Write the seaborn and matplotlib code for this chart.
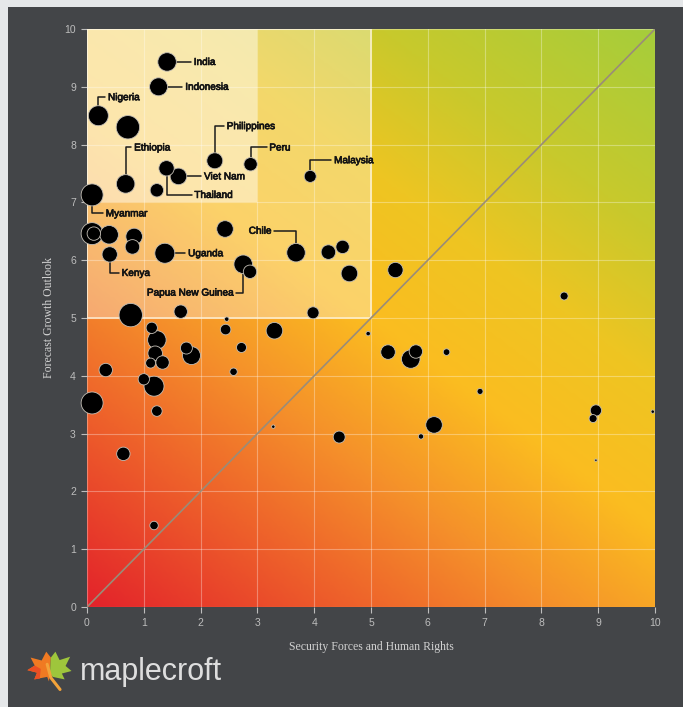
import numpy as np
import pandas as pd
import matplotlib
matplotlib.use("Agg")
import matplotlib.pyplot as plt
import matplotlib.patheffects as pe
import seaborn as sns
from matplotlib.colors import LinearSegmentedColormap
from matplotlib.patches import Rectangle, Polygon

# ---------------------------------------------------
# Data
# ---------------------------------------------------

security = [1.41, 1.26, 0.20, 0.68, 2.25, 2.88, 3.93, 1.61, 1.40, 0.09,
            0.40, 1.37, 2.75, 3.68,
            0.72, 1.23, 0.09, 0.12, 0.39, 0.83, 0.80, 2.43, 2.87, 4.25,
            4.50, 4.62, 5.43, 8.40, 4.95, 5.30, 5.70, 5.79, 6.33, 6.92,
            8.96, 8.91, 9.96, 6.11, 5.88, 4.44, 8.96, 0.77, 1.65, 3.98,
            2.46, 2.44, 3.30, 1.14, 1.23, 1.20, 1.33, 1.12, 1.75, 1.84,
            2.72, 2.58, 0.33, 1.00, 1.18, 1.23, 0.09, 0.64, 1.18, 3.28]
growth = [9.43, 9.00, 8.50, 7.32, 7.72, 7.66, 7.45, 7.45, 7.59, 7.13,
          6.10, 6.12, 5.93, 6.13,
          8.30, 7.21, 6.46, 6.46, 6.44, 6.41, 6.23, 6.54, 5.80, 6.14,
          6.23, 5.77, 5.83, 5.38, 4.73, 4.41, 4.29, 4.42, 4.41, 3.73,
          3.40, 3.26, 3.38, 3.15, 2.95, 2.94, 2.54, 5.05, 5.11, 5.09,
          4.98, 4.80, 4.78, 4.83, 4.62, 4.39, 4.23, 4.22, 4.48, 4.35,
          4.49, 4.07, 4.10, 3.94, 3.82, 3.39, 3.53, 2.65, 1.41, 3.12]
weight = [86, 81, 100, 86, 64, 45, 36, 69, 59, 121,
          59, 100, 86, 86,
          137, 45, 121, 45, 86, 69, 53, 69, 45, 53,
          45, 69, 59, 16, 5, 53, 86, 45, 11, 9,
          32, 16, 3, 69, 7, 36, 1.5, 137, 45, 36,
          5, 28, 69, 32, 86, 53, 45, 25, 36, 81,
          25, 14, 45, 32, 100, 28, 121, 45, 18, 3]
country = ["India", "Indonesia", "Nigeria", "Ethiopia", "Philippines", "Peru",
           "Malaysia", "Viet Nam", "Thailand", "Myanmar", "Kenya", "Uganda",
           "Papua New Guinea", "Chile"] + [""] * 50

df = pd.DataFrame({"security": security, "growth": growth,
                   "weight": weight, "country": country})

# label placement (text anchor, alignment)
label_pos = {
    "India": (1.88, 9.43, "left"),
    "Indonesia": (1.73, 9.00, "left"),
    "Nigeria": (0.37, 8.82, "left"),
    "Ethiopia": (0.83, 7.95, "left"),
    "Philippines": (2.46, 8.32, "left"),
    "Peru": (3.21, 7.95, "left"),
    "Malaysia": (4.35, 7.73, "left"),
    "Viet Nam": (2.06, 7.45, "left"),
    "Thailand": (1.89, 7.13, "left"),
    "Myanmar": (0.33, 6.81, "left"),
    "Kenya": (0.61, 5.78, "left"),
    "Uganda": (1.78, 6.12, "left"),
    "Papua New Guinea": (2.58, 5.44, "right"),
    "Chile": (3.25, 6.51, "right"),
}

# ---------------------------------------------------
# Figure
# ---------------------------------------------------

W, H = 683, 707
fig = plt.figure(figsize=(W / 100, H / 100), dpi=100)
fig.patch.set_facecolor("#e5e7e9")
fig.add_artist(Rectangle((8 / W, 0), 1, 1 - 7 / H, transform=fig.transFigure,
                         facecolor="#434548", edgecolor="none", zorder=-5))

ax = fig.add_axes([87 / W, 1 - 607 / H, 568 / W, 578 / H])
ax.set_facecolor("none")

# background gradient
cmap = LinearSegmentedColormap.from_list("bg", [
    (0.0, "#e3232a"), (0.2, "#ee622b"), (0.35, "#f5922a"), (0.5, "#fbbd20"),
    (0.65, "#eec522"), (0.8, "#c8c92c"), (1.0, "#a6cd3b")])
gx, gy = np.meshgrid(np.linspace(0, 10, 200), np.linspace(0, 10, 200))
ax.imshow((0.42 * gx + 0.58 * gy) / 10, extent=[0, 10, 0, 10], origin="lower",
          cmap=cmap, vmin=0, vmax=1, aspect="auto", interpolation="bilinear", zorder=0)

# highlighted zones
ax.add_patch(Rectangle((0, 5), 5, 5, facecolor="white", alpha=0.33,
                       edgecolor="none", zorder=0.6))
ax.add_patch(Rectangle((0, 5), 5, 5, facecolor="none", edgecolor="#fff6e0",
                       lw=1.2, alpha=0.8, zorder=0.7))
ax.add_patch(Rectangle((0, 7), 3, 3, facecolor="white", alpha=0.45,
                       edgecolor="none", zorder=0.6))

ax.grid(True, color="white", alpha=0.32, lw=0.8, zorder=0.5)
ax.set_axisbelow(True)
ax.plot([0, 10], [0, 10], color="#9a8c78", lw=1.2, zorder=0.8)

df = df.sort_values("weight", ascending=False)
wmax = df["weight"].max()
sns.scatterplot(data=df, x="security", y="growth", size="weight",
                sizes=(0, 2.07 * wmax), size_norm=(0, wmax), color="black",
                edgecolor="#c4bfb6", linewidth=0.6, legend=False, ax=ax,
                zorder=4, clip_on=False)

label_font = ["Liberation Sans", "DejaVu Sans"]
for _, row in df[df["country"] != ""].iterrows():
    tx, ty, ha = label_pos[row["country"]]
    ax.annotate(row["country"], xy=(row["security"], row["growth"]), xytext=(tx, ty),
                ha=ha, va="center", fontsize=7.2, color="#141414",
                family=label_font, zorder=3,
                path_effects=[pe.withStroke(linewidth=0.5, foreground="#141414")],
                arrowprops=dict(arrowstyle="-", color="#1c1c1c", lw=1.1,
                                connectionstyle="angle,angleA=0,angleB=90,rad=0",
                                shrinkA=0, shrinkB=0))

ax.set_xlim(0, 10)
ax.set_ylim(0, 10)
ax.set_xticks(range(11))
ax.set_yticks(range(11))
for s in ax.spines.values():
    s.set_visible(False)
ax.tick_params(colors="#bdbdbd", length=4, width=0.8, pad=4, labelsize=7.5)
for lab in ax.get_xticklabels() + ax.get_yticklabels():
    lab.set_family(label_font)

ax.set_xlabel("Security Forces and Human Rights", family="Liberation Serif",
              fontsize=8.5, color="#d2d2d2", labelpad=9)
ax.set_ylabel("Forecast Growth Outlook", family="Liberation Serif",
              fontsize=8.5, color="#d2d2d2", labelpad=7)

# ---------------------------------------------------
# maplecroft logo
# ---------------------------------------------------

lax = fig.add_axes([26 / W, 1 - 692 / H, 46 / W, 42 / H])
lax.set_xlim(0, 10)
lax.set_ylim(0, 10)
lax.axis("off")
lax.add_patch(Polygon([(5, 2.5), (4.6, 3.6), (1.8, 3.0), (2.4, 4.6), (0.3, 5.2),
                       (1.9, 6.3), (1.0, 8.2), (3.4, 7.5), (4.4, 9.6), (5.4, 8.2),
                       (5.2, 4.5)], facecolor="#f07a22", edgecolor="none"))
lax.add_patch(Polygon([(5.2, 4.5), (5.4, 8.2), (6.4, 9.6), (7.3, 7.6), (9.6, 8.4),
                       (8.6, 6.2), (9.9, 5.0), (7.8, 4.4), (8.4, 3.0), (5.8, 3.6)],
                      facecolor="#9ec63c", edgecolor="none"))
lax.add_patch(Polygon([(3.0, 3.2), (1.8, 3.0), (2.4, 4.6), (0.3, 5.2), (1.9, 6.3),
                       (3.2, 5.5)], facecolor="#ea4f24", edgecolor="none"))
lax.plot([4.6, 5.4, 7.4], [6.6, 3.4, 0.6], color="#f3a33a", lw=2.2,
         solid_capstyle="round")
fig.text(80 / W, 1 - 680 / H, "maplecroft", family="Liberation Sans",
         fontsize=22, color="#dedede", va="baseline")

fig.savefig("out.png", dpi=100, facecolor=fig.get_facecolor())
